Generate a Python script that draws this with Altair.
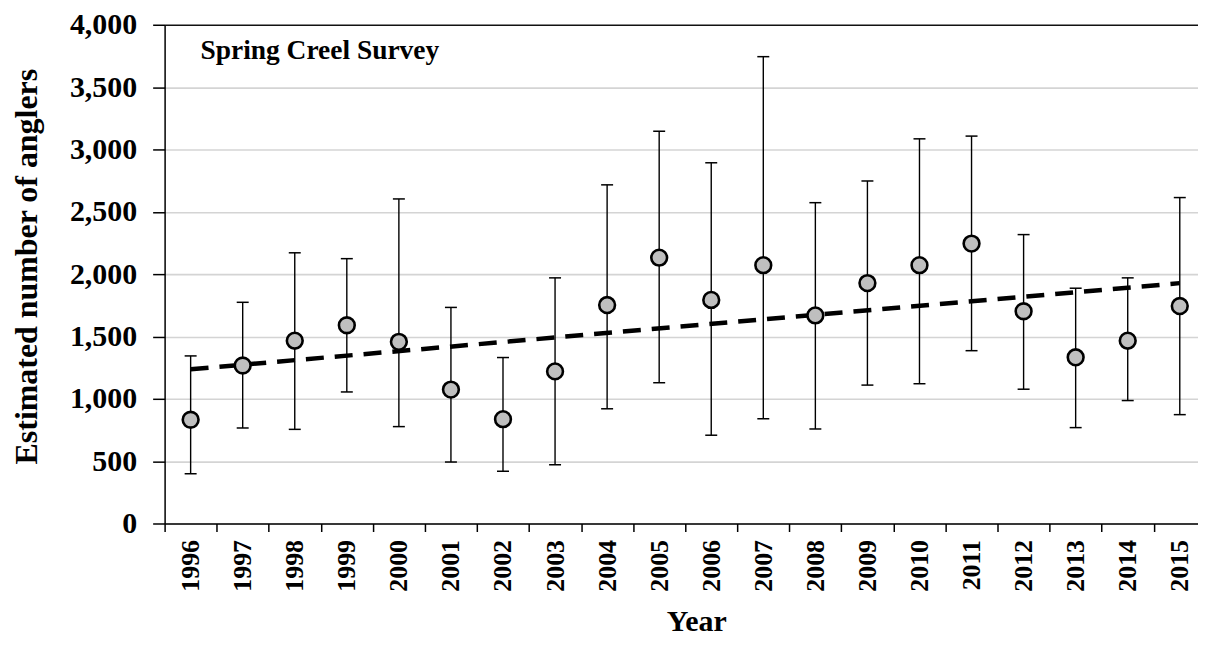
import altair as alt
import pandas as pd

# ---- data ----
years = list(range(1996, 2016))
mean_anglers = [832, 1267, 1466, 1590, 1457, 1074, 837, 1220, 1752, 2132,
                1793, 2072, 1669, 1928, 2072, 2245, 1702, 1333, 1466, 1744]
lower_ci = [399, 766, 755, 1055, 777, 493, 419, 471, 920, 1129,
            708, 840, 758, 1110, 1121, 1386, 1077, 769, 986, 873]
upper_ci = [1344, 1774, 2171, 2124, 2603, 1733, 1331, 1970, 2716, 3146,
            2893, 3744, 2573, 2747, 3085, 3107, 2317, 1887, 1970, 2614]
y_ticks = list(range(0, 4001, 500))
annotation = ["Spring Creel Survey"]

df = pd.DataFrame({"year": years, "mean": mean_anglers,
                   "lower": lower_ci, "upper": upper_ci})

FONT = "Liberation Serif"
W, H = 1036, 500
X_DOMAIN = [1995.5, 2015.35]
band = W / (X_DOMAIN[1] - X_DOMAIN[0])

xscale = alt.Scale(domain=X_DOMAIN, nice=False, zero=False)
yscale = alt.Scale(domain=[0, 4000], nice=False, zero=True)

xaxis = alt.Axis(
    values=years, format="d", title="Year", labelAngle=270,
    tickOffset=-band / 2, labelOffset=band / 2, grid=False,
    tickSize=8, tickColor="black", tickWidth=1.5,
    domainColor="black", domainWidth=1.5,
    labelFont=FONT, labelFontWeight="bold", labelFontSize=26, labelColor="black",
    labelPadding=8,
    titleFont=FONT, titleFontWeight="bold", titleFontSize=30, titleColor="black",
    titlePadding=15, titleX=533,
)
yaxis = alt.Axis(
    values=y_ticks, format=",.0f", title="Estimated number of anglers",
    tickSize=12, tickColor="black", tickWidth=1.5,
    domainColor="black", domainWidth=1.5,
    grid=True,
    gridColor={"condition": {"test": "datum.value === 4000", "value": "#111111"},
               "value": "#d4d4d4"},
    gridWidth=1.6,
    labelFont=FONT, labelFontWeight="bold", labelFontSize=30, labelColor="black",
    labelPadding=16,
    titleFont=FONT, titleFontWeight="bold", titleFontSize=32, titleColor="black",
    titlePadding=26, titleY=242,
)

base = alt.Chart(df)

bars = base.mark_rule(color="black", strokeWidth=1.4).encode(
    x=alt.X("year:Q", scale=xscale, axis=xaxis),
    y=alt.Y("lower:Q", scale=yscale, axis=yaxis),
    y2="upper:Q",
)
cap_hi = base.mark_tick(orient="horizontal", color="black", size=12,
                        thickness=1.5, opacity=1).encode(
    x=alt.X("year:Q", scale=xscale, axis=xaxis),
    y=alt.Y("upper:Q", scale=yscale, axis=yaxis),
)
cap_lo = base.mark_tick(orient="horizontal", color="black", size=12,
                        thickness=1.5, opacity=1).encode(
    x=alt.X("year:Q", scale=xscale, axis=xaxis),
    y=alt.Y("lower:Q", scale=yscale, axis=yaxis),
)
trend = base.transform_regression("year", "mean").mark_line(
    color="black", strokeWidth=4.5, strokeDash=[18, 11]
).encode(
    x=alt.X("year:Q", scale=xscale, axis=xaxis),
    y=alt.Y("mean:Q", scale=yscale, axis=yaxis),
)
points = base.mark_point(filled=False, shape="circle", size=250,
                         fill="#bfbfbf", fillOpacity=1, stroke="black",
                         strokeWidth=2.6, opacity=1).encode(
    x=alt.X("year:Q", scale=xscale, axis=xaxis),
    y=alt.Y("mean:Q", scale=yscale, axis=yaxis),
)
label = alt.Chart(pd.DataFrame({"t": annotation})).mark_text(
    align="left", baseline="alphabetic", font=FONT, fontWeight="bold",
    fontSize=27.5, color="black"
).encode(text="t:N", x=alt.value(36), y=alt.value(34))

chart = alt.layer(bars, cap_hi, cap_lo, trend, points, label).properties(
    width=W, height=H,
    autosize=alt.AutoSizeParams(type="none"),
    padding={"left": 157, "top": 16, "right": 0, "bottom": 114},
    background="white",
).configure_view(stroke=None)

chart.save("out.html", embed_options={"renderer": "svg", "actions": False})
